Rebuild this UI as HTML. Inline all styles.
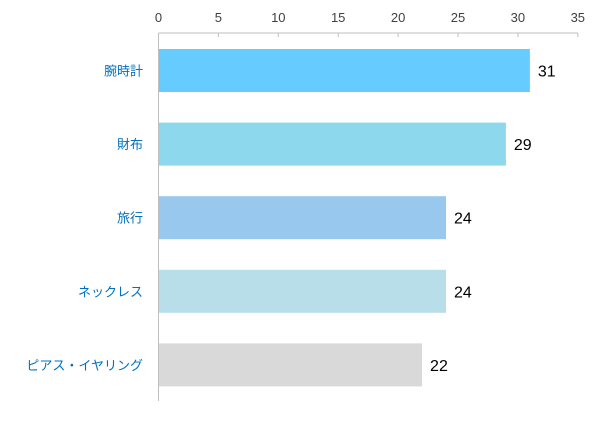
<!DOCTYPE html>
<html><head><meta charset="utf-8"><style>
body{margin:0;background:#fff;}
svg text{font-family:"Liberation Sans","Noto Sans CJK JP",sans-serif;}
</style></head><body>
<svg id="c" width="600" height="417"></svg>
<script>
const categories=["腕時計","財布","旅行","ネックレス","ピアス・イヤリング"];
const values=[31,29,24,24,22];
const colors=["#66CCFF","#8DD8EC","#99C8EE","#B8DEE9","#D9D9D9"];
const ticks=[0,5,10,15,20,25,30,35];
const svg=document.getElementById('c');
const NS="http://www.w3.org/2000/svg";
const x0=158.5,pxPer=11.98,axisY=33,bottom=401,bandTop=33,band=73.6;
const X=v=>x0+v*pxPer;
function mk(t,a,txt){const e=document.createElementNS(NS,t);for(const k in a)e.setAttribute(k,a[k]);if(txt!=null)e.textContent=txt;svg.appendChild(e);return e;}
let l=mk('line',{x1:x0,y1:axisY,x2:X(35),y2:axisY,stroke:'#BFBFBF','stroke-width':1});


ticks.forEach(t=>{
 let tl=mk('line',{x1:X(t),y1:axisY,x2:X(t),y2:axisY+4,stroke:'#BFBFBF'});
 
 
 let tx=mk('text',{x:X(t),y:22,'text-anchor':'middle','font-size':13,fill:'#404040'},t);
 
 
});
let yl=mk('line',{x1:x0,y1:axisY,x2:x0,y2:bottom,stroke:'#BFBFBF'});


categories.forEach((c,i)=>{
 const y=bandTop+band*i+16,h=43;
 let r=mk('rect',{x:x0+0.5,y:y,width:X(values[i])-x0-0.5,height:h,fill:colors[i]});
 
 
 let v=mk('text',{x:X(values[i])+8,y:y+h/2+6,'font-size':16,fill:'#000'},values[i]);
 
 
 let lb=mk('text',{x:143,y:y+h/2+5,'text-anchor':'end','font-size':13,fill:'#0070C0'},c);
 
 
});
</script>
</body></html>
